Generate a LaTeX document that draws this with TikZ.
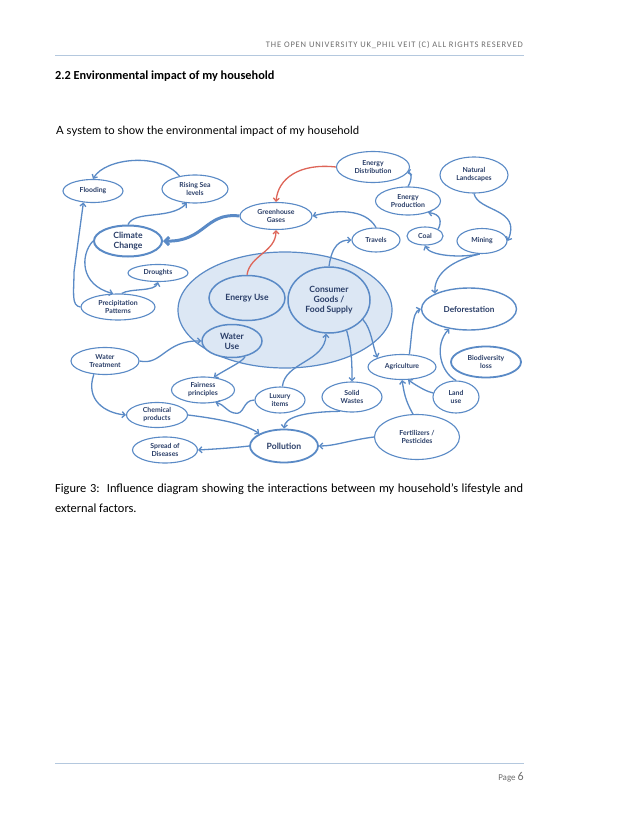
\documentclass[tikz,border=0pt]{standalone}
\usepackage{fontspec}
\setmainfont{Carlito}
\newfontfamily\diagfont{Lato}
\newfontfamily\hdrfont[LetterSpace=10]{Carlito}
\usetikzlibrary{shapes.geometric,arrows.meta}
\definecolor{lb}{HTML}{5A8AC6}
\definecolor{navy}{HTML}{2A3E68}
\definecolor{redc}{HTML}{DE6558}
\definecolor{hfill}{HTML}{DCE7F4}
\definecolor{rulec}{HTML}{B4C8DE}
\definecolor{hdrgray}{HTML}{6E6E6E}
\tikzset{
  nd/.style={ellipse, draw=lb, line width=1.1pt, fill=white, inner sep=0pt, text=navy,
    font=\diagfont\bfseries\fontsize{6.9}{8}\selectfont, align=center},
  bignd/.style={nd, font=\diagfont\bfseries\fontsize{8.6}{10}\selectfont},
  arr/.style={draw=lb, line width=1.3pt, -{Straight Barb[length=3pt,width=6pt]}},
  rarr/.style={arr, draw=redc},
  pagetext/.style={inner sep=0pt, anchor=base west},
}
\begin{document}
\begin{tikzpicture}[x=1pt,y=-1pt]
\useasboundingbox (0,0) rectangle (638,826);
\fill[white] (0,0) rectangle (638,826);
% page header and footer
\node[pagetext, anchor=base east, text=hdrgray, font=\hdrfont\fontsize{8.5}{9}\selectfont] (hdr) at (523,48) {THE OPEN UNIVERSITY UK\_PHIL VEIT (C) ALL RIGHTS RESERVED};
\draw[rulec, line width=0.6pt] (55,55) coordinate (hl1) -- (524,55) coordinate (hl2);
\node[pagetext, font=\bfseries\fontsize{12.3}{14}\selectfont] (sec) at (55,80) {2.2 Environmental impact of my household};
\node[pagetext, font=\fontsize{12.4}{14}\selectfont] (cap1) at (55,492) {\makebox[468pt][s]{Figure 3:\ \ Influence diagram showing the interactions between my household’s lifestyle and}};
\node[pagetext, font=\fontsize{12.4}{14}\selectfont] (cap2) at (55,512) {external factors.};
\draw[rulec, line width=0.6pt] (55,763) coordinate (fl1) -- (524,763) coordinate (fl2);
\node[pagetext, anchor=base east, text=hdrgray, font=\fontsize{9}{10}\selectfont] (pg) at (524,780) {Page \fontsize{12}{12}\selectfont 6};
% diagram title
\node[pagetext, font=\diagfont\fontsize{11.3}{13}\selectfont] (title) at (56,135) {A system to show the environmental impact of my household};
% household big ellipse
\node[ellipse, draw=lb, line width=1.2pt, fill=hfill, minimum width=214pt, minimum height=116pt] (house) at (285,310) {};
% nodes
\node[nd, minimum width=60pt, minimum height=23pt] (flood) at (93,191) {Flooding};
\node[nd, minimum width=66pt, minimum height=28pt] (rising) at (195,189) {Rising Sea\\levels};
\node[nd, minimum width=72pt, minimum height=27pt] (ghg) at (276,216) {Greenhouse\\Gases};
\node[bignd, line width=2pt, minimum width=68pt, minimum height=31pt] (climate) at (128,241) {Climate\\Change};
\node[nd, minimum width=60pt, minimum height=17pt] (drought) at (158,273) {Droughts};
\node[nd, minimum width=74pt, minimum height=26pt] (precip) at (118,307) {Precipitation\\Patterns};
\node[bignd, line width=1.5pt, fill=hfill, minimum width=76pt, minimum height=45pt] (euse) at (247,298) {Energy Use};
\node[bignd, line width=1.5pt, fill=hfill, minimum width=82pt, minimum height=66pt] (consumer) at (329,300) {Consumer\\Goods /\\Food Supply};
\node[bignd, line width=1.5pt, fill=hfill, minimum width=60pt, minimum height=33pt] (wuse) at (232,341) {Water\\Use};
\node[nd, minimum width=48pt, minimum height=24pt] (travels) at (376,240) {Travels};
\node[nd, minimum width=73pt, minimum height=31pt] (edist) at (373,167) {Energy\\Distribution};
\node[nd, minimum width=65pt, minimum height=28pt] (eprod) at (408,201) {Energy\\Production};
\node[nd, minimum width=68pt, minimum height=36pt] (natural) at (474,175) {Natural\\Landscapes};
\node[nd, minimum width=36pt, minimum height=18pt] (coal) at (425,236) {Coal};
\node[nd, minimum width=50pt, minimum height=25pt] (mining) at (482,241) {Mining};
\node[bignd, font=\diagfont\bfseries\fontsize{8.2}{9.5}\selectfont, line width=1.4pt, minimum width=95pt, minimum height=42pt] (defor) at (469,309) {Deforestation};
\node[nd, line width=1.8pt, minimum width=70pt, minimum height=31pt] (biodiv) at (486,362) {Biodiversity\\loss};
\node[nd, minimum width=46pt, minimum height=32pt] (landuse) at (456,397) {Land\\use};
\node[nd, minimum width=68pt, minimum height=25pt] (agri) at (402,367) {Agriculture};
\node[nd, minimum width=85pt, minimum height=45pt] (fert) at (417,437) {Fertilizers /\\Pesticides};
\node[nd, minimum width=60pt, minimum height=30pt] (solid) at (352,397) {Solid\\Wastes};
\node[nd, minimum width=50pt, minimum height=26pt] (luxury) at (280,400) {Luxury\\items};
\node[bignd, line width=1.8pt, minimum width=68pt, minimum height=33pt] (pollution) at (284,446) {Pollution};
\node[nd, minimum width=63pt, minimum height=26pt] (fair) at (203,390) {Fairness\\principles};
\node[nd, minimum width=61pt, minimum height=25pt] (chem) at (157,415) {Chemical\\products};
\node[nd, minimum width=65pt, minimum height=26pt] (spread) at (165,450) {Spread of\\Diseases};
\node[nd, minimum width=68pt, minimum height=27pt] (wtreat) at (105,361) {Water\\Treatment};
% connectors
\draw[arr] (rising.140) .. controls (160,152) and (105,158) .. (flood.north);
\draw[arr] (climate.north) .. controls (135,210) and (170,220) .. (rising.-120);
\draw[arr, line width=3pt, -{Straight Barb[length=4pt,width=8pt]}] (ghg.west) .. controls (205,212) and (205,242) .. (climate.east);
\draw[rarr] (edist.west) .. controls (300,163) and (278,178) .. (ghg.north);
\draw[rarr] (euse.north) .. controls (250,255) and (276,252) .. (ghg.south);
\draw[arr] (travels.north) .. controls (365,208) and (335,210) .. (ghg.east);
\draw[arr] (consumer.north) .. controls (332,245) and (340,240) .. (travels.west);
\draw[arr] (eprod.north) .. controls (412,180) and (412,172) .. (edist.-10);
\draw[arr] (coal.north east) .. controls (442,222) and (441,214) .. (eprod.-30);
\draw[arr] (mining.-100) .. controls (460,258) and (430,256) .. (coal.south);
\draw[arr] (mining.-100) .. controls (445,262) and (434,278) .. (defor.north west);
\draw[arr] (natural.south) .. controls (478,212) and (522,208) .. (mining.east);
\draw[arr] (agri.60) .. controls (412,335) and (412,312) .. (defor.west);
\draw[arr] (landuse.north) .. controls (440,372) and (434,345) .. (defor.-135);
\draw[arr] (landuse.170) .. controls (428,392) and (420,388) .. (agri.-65);
\draw[arr] (fert.100) .. controls (405,400) and (404,392) .. (agri.south);
\draw[arr] (fert.west) .. controls (350,440) and (335,446) .. (pollution.east);
\draw[arr] (solid.-130) .. controls (300,412) and (285,418) .. (pollution.north);
\draw[arr] (consumer.-60) .. controls (352,350) and (352,365) .. (solid.north);
\draw[arr] (consumer.-30) .. controls (372,330) and (372,345) .. (agri.north west);
\draw[arr] (luxury.80) .. controls (285,362) and (325,362) .. (consumer.-95);
\draw[arr] (wuse.-50) .. controls (242,362) and (232,366) .. (fair.50);
\draw[arr] (luxury.west) .. controls (242,400) and (245,416) .. (234,413) .. controls (226,411) and (225,405) .. (fair.-45);
\draw[arr] (chem.east) .. controls (220,419) and (245,424) .. (pollution.north west);
\draw[arr] (pollution.west) .. controls (232,448) and (215,449) .. (spread.east);
\draw[arr] (wtreat.-130) .. controls (85,400) and (105,413) .. (chem.west);
\draw[arr] (wtreat.east) .. controls (162,366) and (165,340) .. (wuse.west);
\draw[arr] (climate.west) .. controls (80,255) and (80,285) .. (precip.110);
\draw[arr] (precip.75) .. controls (130,288) and (155,292) .. (drought.south);
\draw[arr] (precip.west) .. controls (71,306) and (74,292) .. (74,272) -- (flood.-130);
\end{tikzpicture}
\end{document}
